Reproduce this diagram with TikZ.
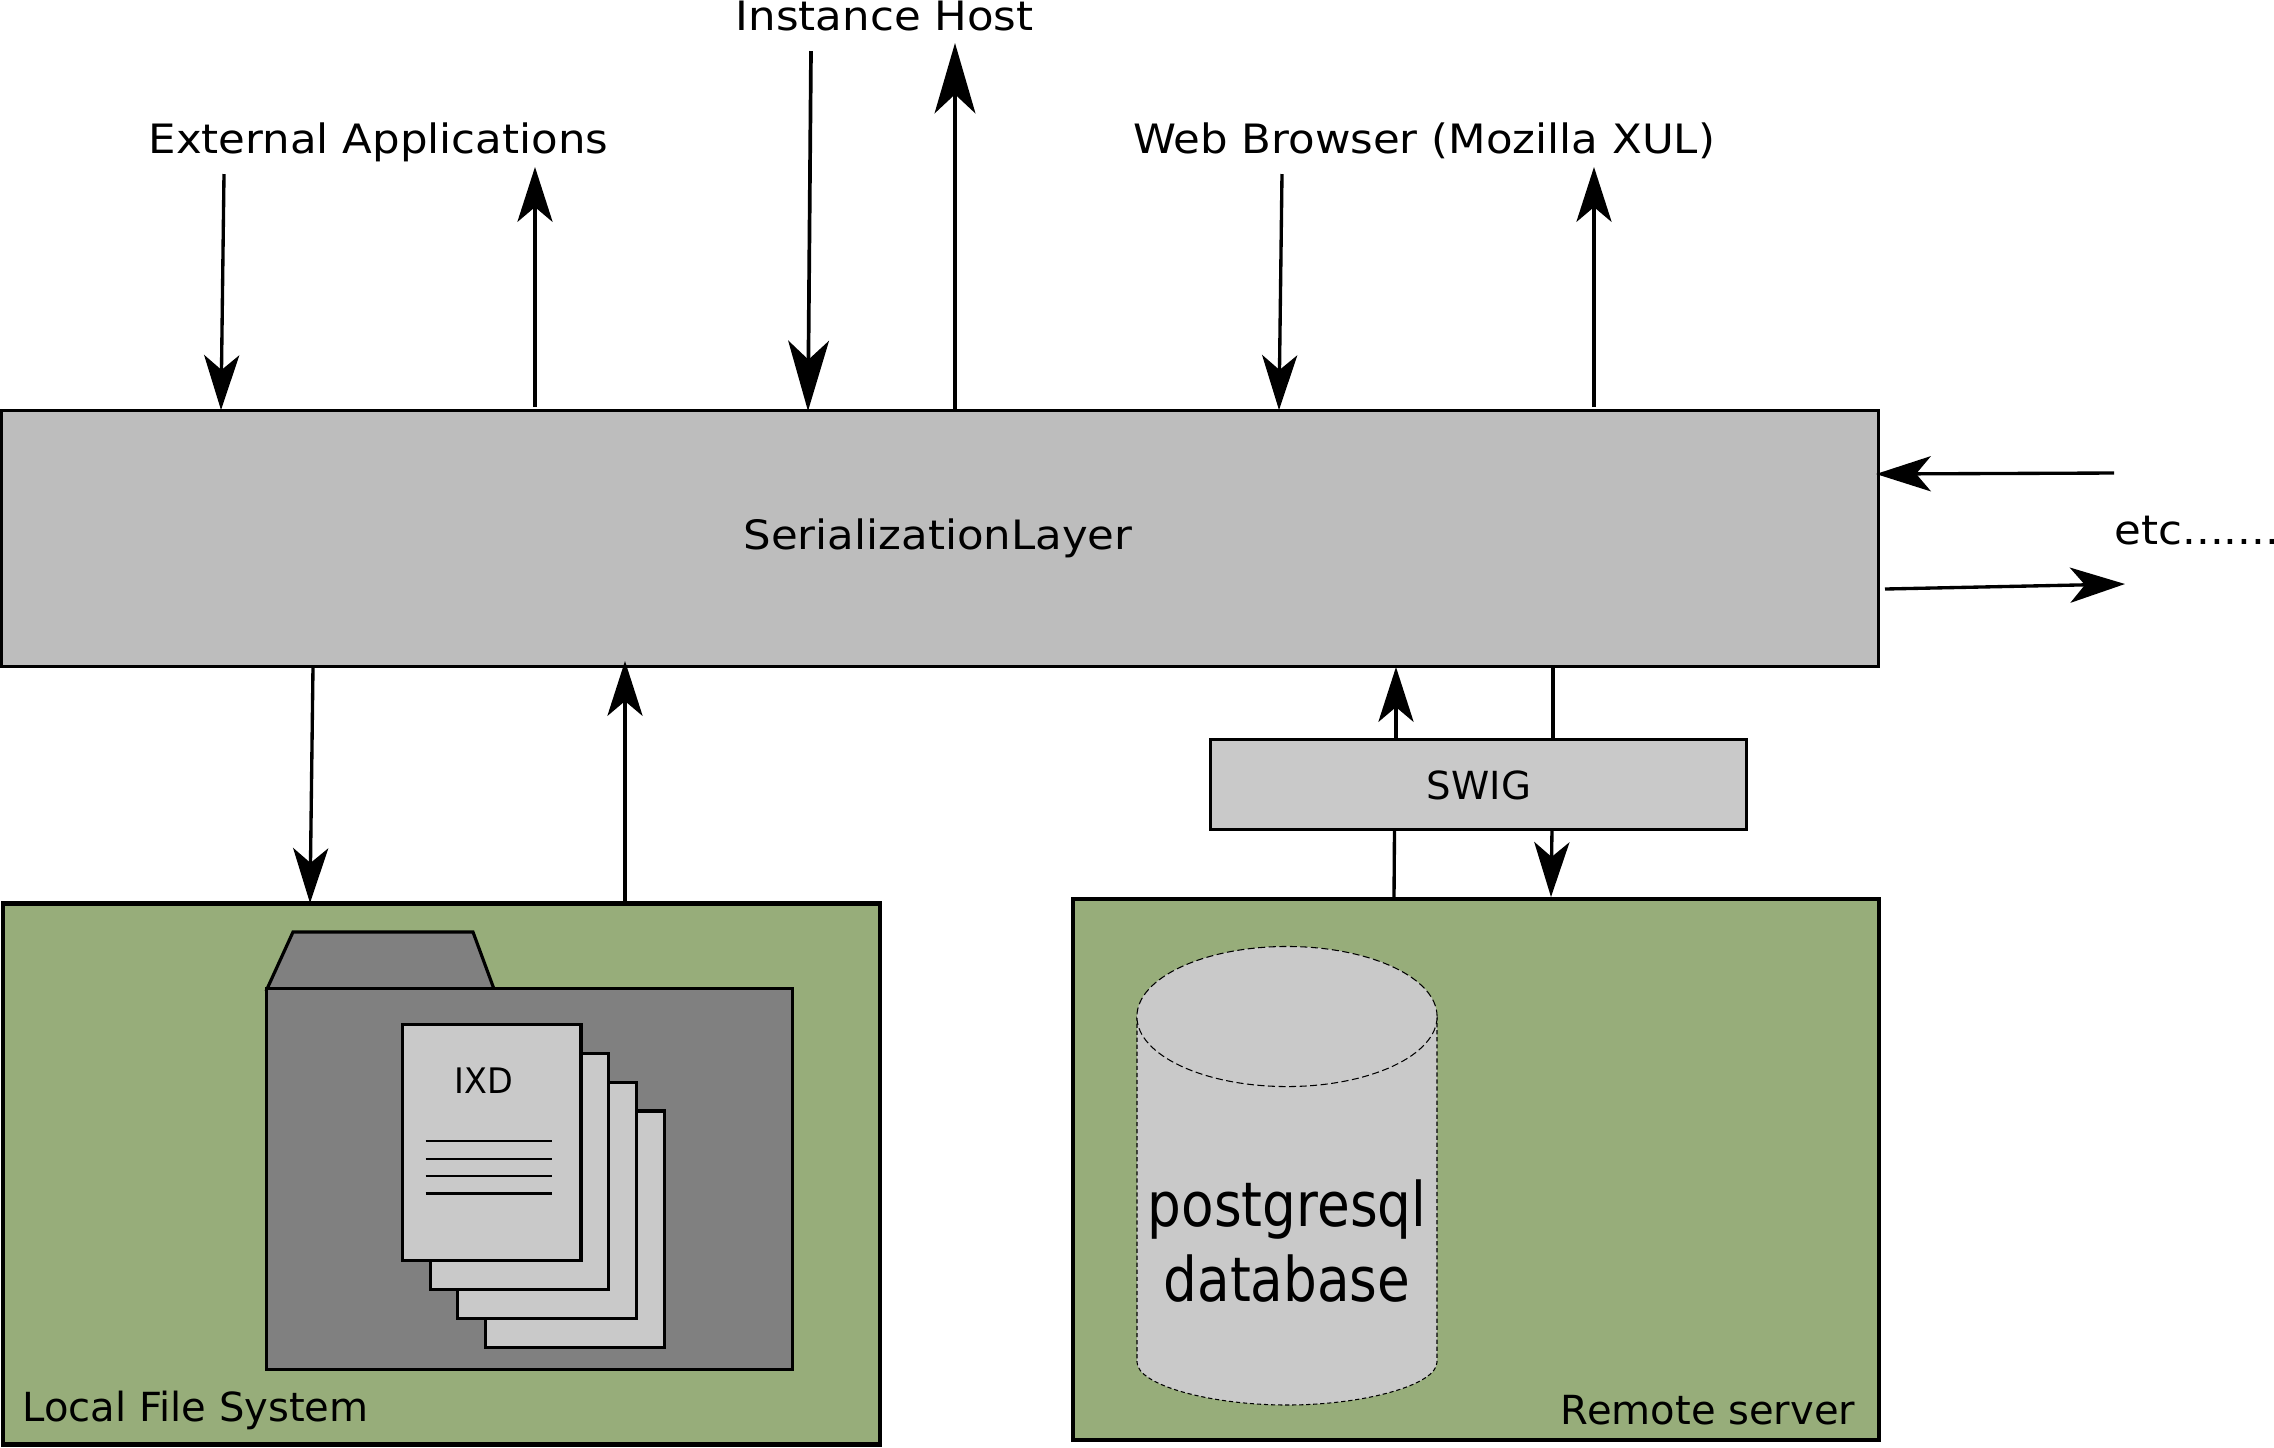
\documentclass[tikz,border=0pt]{standalone}
\usepackage{fontspec}
\setmainfont{DejaVu Sans}
\newfontfamily\widefont[FakeStretch=1.075]{DejaVu Sans}
\usetikzlibrary{calc,shapes}
\usetikzlibrary{arrows.meta}
\definecolor{boxgreen}{HTML}{97AD7A}
\definecolor{layergray}{HTML}{BDBDBD}
\definecolor{sheetgray}{HTML}{C9C9C9}
\definecolor{foldergray}{HTML}{808080}
\tikzset{
  plainbox/.style={draw, inner sep=0pt, line width=0.9pt},
  hostbox/.style={plainbox, fill=boxgreen, line width=1.25pt},
  txt/.style={inner sep=0pt, anchor=base},
  toptxt/.style={txt, font=\widefont\fontsize{11.5}{14}\selectfont},
  hosttxt/.style={txt, font=\fontsize{11.4}{14}\selectfont},
  dbtxt/.style={txt, font=\fontsize{17.5}{20}\selectfont},
  smalltip/.style={-{Stealth[length=15.6pt,width=10pt,inset=4.2pt]}, line width=0.95pt},
  bigtip/.style={-{Stealth[length=20pt,width=11.6pt,inset=5.4pt]}, line width=1.05pt},
}
\begin{document}
\begin{tikzpicture}[x=0.01cm,y=-0.01cm]
            \useasboundingbox (0,0) rectangle (2274,1447);

            % boxes
            \node[plainbox, fill=layergray, minimum width=18.76cm, minimum height=2.56cm](layer) at (940,538.5){};
            \node[plainbox, fill=sheetgray, minimum width=5.35cm, minimum height=0.9cm](swig) at (1478.5,784.5){};
            \node[hostbox, minimum width=8.77cm, minimum height=5.41cm](local) at (441.5,1174){};
            \node[hostbox, minimum width=8.06cm, minimum height=5.41cm](remote) at (1476,1169.5){};

            % folder
            \filldraw[fill=foldergray, line width=0.9pt](267,989) -- (293,932) -- (473,932) -- (494,989) -- cycle;
            \node[plainbox, fill=foldergray, minimum width=5.25cm, minimum height=3.8cm](folder) at (529.5,1179){};
            \foreach \n/\x/\y in {
            sheetd/575/1229,
            sheetc/547.2/1200.2,
            sheetb/519.4/1171.4,
            sheeta/491.7/1142.5
            }{\node[plainbox, fill=sheetgray, minimum width=1.785cm, minimum height=2.36cm](\n) at (\x,\y){};}
            \foreach \y in {1141,1159,1176,1193.5}{\draw[line width=0.8pt] (425.5,\y) -- (552,\y);}

            % database
            \filldraw[fill=sheetgray, line width=0.3pt, dash pattern=on 1.2pt off 0.8pt](1137,1016.5) -- (1137,1362) .. controls (1137,1385) and (1210,1405) .. (1287,1405) .. controls (1364,1405) and (1437,1385) .. (1437,1362) -- (1437,1016.5);
            \filldraw[fill=sheetgray, line width=0.3pt, dash pattern=on 2pt off 1pt](1287,1016.5) ellipse (1.5cm and 0.7cm);

            % labels
            \node[toptxt](ext) at (378.5,153){External Applications};
            \node[toptxt](inst) at (884.7,30){Instance Host};
            \node[toptxt](web) at (1424,153){Web Browser (Mozilla XUL)};
            \node[toptxt](ser) at (938,549.5){SerializationLayer};
            \node[toptxt, anchor=base west](etc) at (2114,544){etc.......};
            \node[txt, font=\fontsize{11}{14}\selectfont](swigl) at (1479,799){SWIG};
            \node[hosttxt, anchor=base west](locall) at (22,1421.5){Local File System};
            \node[hosttxt, anchor=base east](remotel) at (1856,1424){Remote server};
            \node[txt, font=\fontsize{10}{12}\selectfont](ixd) at (484,1093.5){\scalebox{0.95}[1]{IXD}};
            \node[dbtxt](pg) at (1287,1226){\scalebox{0.865}[1]{postgresql}};
            \node[dbtxt](dbl) at (1287,1301){\scalebox{0.865}[1]{database}};

            % connector ends
            \foreach \n/\x/\y in {
            extdowna/224/174,
            extdownb/221/410,
            extupa/535/407,
            extupb/535/167,
            instdowna/811/51,
            instdownb/808/411,
            instupa/955/409,
            instupb/955/43,
            webdowna/1282/174,
            webdownb/1279/410,
            webupa/1594/407,
            webupb/1594/167,
            etcina/2114/473,
            etcinb/1876/474,
            etcouta/1885/589,
            etcoutb/2125/584,
            locdowna/313/667,
            locdownb/310/903,
            locupa/625/902,
            locupb/625/661,
            swigupa/1396/738,
            swigupb/1396/667,
            remupa/1394/899,
            remupb/1394.5/830,
            swigdowna/1553/667,
            swigdownb/1553/739,
            remdowna/1552/830,
            remdownb/1551/897}{\coordinate (\n) at (\x,\y);}

            \foreach \i/\j/\s in {
            extdowna/extdownb/smalltip,
            extupa/extupb/smalltip,
            instdowna/instdownb/bigtip,
            instupa/instupb/bigtip,
            webdowna/webdownb/smalltip,
            webupa/webupb/smalltip,
            etcina/etcinb/smalltip,
            etcouta/etcoutb/smalltip,
            locdowna/locdownb/smalltip,
            locupa/locupb/smalltip,
            swigupa/swigupb/smalltip,
            remdowna/remdownb/smalltip}{\path[\s] (\i) edge (\j);}
            \foreach \i/\j in {
            remupa/remupb,
            swigdowna/swigdownb}{\path[line width=0.95pt] (\i) edge (\j);}
        \end{tikzpicture}
\end{document}
